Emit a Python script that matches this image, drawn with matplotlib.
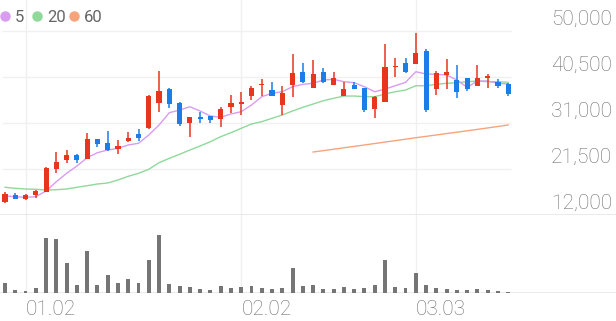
import numpy as np
import matplotlib
matplotlib.use('Agg')
import matplotlib.pyplot as plt
from matplotlib.lines import Line2D

# Daily candles (price in KRW)
opens = [14750, 16130, 15370, 16070, 16810, 21440, 23360, 24450, 23630, 27630,
         26930, 25570, 27340, 28730, 29900, 35070, 37960, 35190, 30940, 32300,
         32440, 31760, 34240, 34920, 36570, 38850, 37810, 34720, 38850, 41630,
         38290, 41430, 38850, 36640, 38850, 38170, 33830, 35400, 42500, 43330,
         43180, 45870, 37960, 40970, 39880, 40230, 38700, 40230, 39530, 39050]
highs = [16810, 16480, 16270, 17220, 21970, 25070, 25420, 24500, 28870, 27700,
         29450, 27490, 29240, 29700, 36700, 41740, 38170, 35400, 32300, 33210,
         32500, 34360, 36780, 37460, 38700, 40020, 39570, 38640, 45250, 43490,
         44010, 42330, 41530, 39570, 39570, 38250, 36500, 47250, 44360, 44360,
         49520, 46280, 41800, 44150, 42980, 40300, 43010, 41050, 40020, 39320]
lows = [14420, 15240, 15160, 15510, 16690, 20740, 22800, 22800, 23500, 25980,
        25280, 24600, 27140, 27280, 29800, 33330, 34030, 30380, 28050, 31060,
        30940, 30110, 33130, 32650, 35750, 36640, 36500, 32650, 36310, 39300,
        38170, 39300, 38800, 36550, 37950, 33330, 31970, 35300, 40430, 41400,
        43100, 33210, 36780, 37960, 36100, 37610, 38650, 38290, 38170, 36640]
closes = [16270, 15370, 16070, 17020, 21770, 23010, 24390, 23360, 27630, 26600,
          25420, 26250, 27900, 27960, 36570, 37610, 34920, 30730, 32300, 31760,
          31620, 33890, 35070, 35400, 38170, 39110, 36640, 37260, 41260, 39400,
          41120, 39400, 40230, 38080, 38020, 33680, 36430, 42620, 42770, 41470,
          45520, 33680, 41260, 41430, 37340, 38020, 40350, 40700, 38700, 36990]
volumes = [400, 108, 80, 212, 2200, 2172, 1200, 332, 1668, 308,
           732, 400, 548, 412, 1332, 2308, 348, 280, 228, 160,
           108, 292, 212, 252, 280, 188, 148, 212, 1012, 280,
           332, 148, 148, 228, 148, 212, 308, 1308, 252, 188,
           800, 320, 212, 160, 120, 120, 172, 108, 68, 40]

# Moving averages as drawn on the chart
ma5 = [15920, 15780, 15660, 15780, 16960, 18880, 20610, 22120, 23830, 24870,
       25420, 25770, 26460, 26810, 28520, 30590, 33130, 33680, 34360, 33480,
       32440, 32180, 32860, 33330, 34720, 36430, 37130, 37460, 38490, 38990,
       39200, 39880, 40020, 39530, 39320, 38490, 37460, 38000, 38700, 39400,
       41590, 41120, 41050, 40910, 39880, 38370, 39670, 39670, 39200, 39050]
ma20 = [17720, 17510, 17370, 17310, 17160, 17220, 17370, 17720, 18050, 18400,
        18610, 19230, 19990, 20610, 21440, 22800, 23710, 24540, 25420, 26250,
        27140, 28170, 29000, 29900, 30790, 31270, 31970, 32650, 33480, 34240,
        34920, 35600, 36100, 36570, 36570, 36430, 36430, 36990, 37460, 37810,
        38700, 38700, 38990, 39200, 39320, 39530, 39670, 39530, 39530, 39400]
ma60_start = 30
ma60 = [25010, 25290, 25580, 25880, 26170, 26460, 26760, 27060, 27360, 27660,
        27960, 28240, 28530, 28820, 29100, 29390, 29680, 29980, 30280, 30585]

price_levels = [12000, 21500, 31000, 40500, 50000]
date_idx = [2, 23, 40]
date_labels = ['01.02', '02.02', '03.03']

RED = '#e8361e'
BLUE = '#1b7de8'
C5 = '#d89cf0'
C20 = '#8fd99b'
C60 = '#f6a47c'
GRID = '#f0f0f0'
TXT = '#6e6e6e'
FONT = 'Roboto'

W, H = 616, 321
fig = plt.figure(figsize=(W / 100, H / 100), dpi=100)

# pixel layout: price panel 0..215, volume panel 215..293
ax = fig.add_axes([0, (H - 215) / H, 1, 215 / H])
axv = fig.add_axes([0, (H - 293) / H, 1, 78 / H])

step = 10.27
x_left = -5 / step
x_right = (W - 5) / step
x = np.arange(len(closes))

for a in (ax, axv):
    a.set_xlim(x_left, x_right)
    a.axis('off')
    for i in date_idx:
        a.axvline(i, color=GRID, lw=1, zorder=0)

ax.set_ylim(12000, 12000 + 215 * 9500 / 46)
axv.set_ylim(0, max(volumes) * 78 / 57.7)

# horizontal price grid (top four stop at the plot edge)
ax.hlines(price_levels[1:], -0.25, 49.3, color=GRID, lw=1, zorder=0)
ax.axhline(price_levels[0], color='#e6e6e6', lw=1.2, zorder=0)
axv.axhline(0, color='#e6e6e6', lw=1.2, zorder=0)

for lv in price_levels:
    ax.annotate('{:,}'.format(lv), xy=(0.9935, lv), xycoords=('axes fraction', 'data'),
                xytext=(0, 4.3), textcoords='offset points', ha='right', va='baseline',
                fontsize=15, color=TXT, family=FONT, fontweight='light')

# moving averages
ax.plot(x, ma20, color=C20, lw=1.0, zorder=2)
ax.plot(x[ma60_start:], ma60, color=C60, lw=1.0, zorder=2)
ax.plot(x, ma5, color=C5, lw=1.0, zorder=2)

# candles
o = np.array(opens)
c = np.array(closes)
colors = [RED if cc >= oo else BLUE for oo, cc in zip(o, c)]
ax.vlines(x, lows, highs, color=colors, lw=1.1, zorder=3)
body_h = np.maximum(np.abs(c - o), 250)
ax.bar(x, body_h, bottom=np.minimum(o, c), width=0.5, color=colors, zorder=4)

# volume
axv.bar(x, volumes, width=0.38, color='#757575', zorder=3)

# date labels below the volume panel
for i, lab in zip(date_idx, date_labels):
    axv.annotate(lab, xy=(i, 0), xycoords=('data', 'axes fraction'),
                 xytext=(0.3, -16), textcoords='offset points', ha='left', va='baseline',
                 fontsize=15, color=TXT, family=FONT, fontweight='light')

# legend
leg = [(5, C5, '5'), (37.3, C20, '20'), (74, C60, '60')]
for px, col, lab in leg:
    fig.add_artist(Line2D([px / W], [1 - 15.7 / H], marker='o', markersize=6.5,
                          color=col, linestyle='none', transform=fig.transFigure))
    fig.text((px + 9.5) / W, 1 - 15.7 / H, lab, ha='left', va='center_baseline',
             fontsize=12, color='#666666', family=FONT)

fig.savefig('out.png', dpi=100)
